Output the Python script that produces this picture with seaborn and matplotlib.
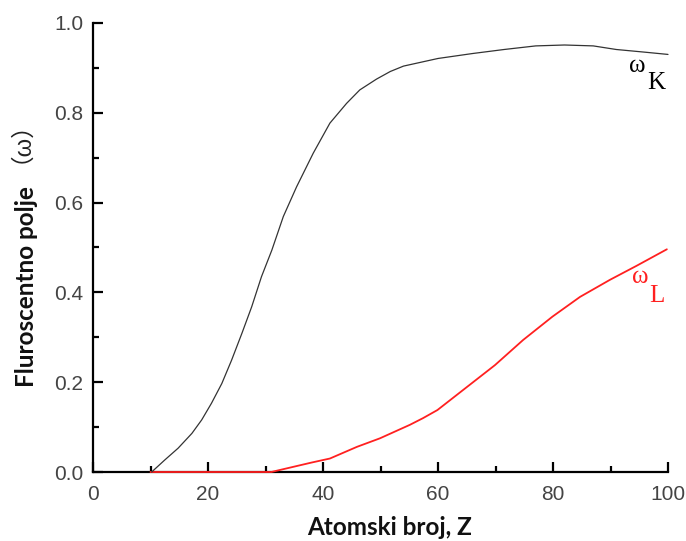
import matplotlib
matplotlib.use("Agg")
import matplotlib.pyplot as plt
from matplotlib.ticker import MultipleLocator
import seaborn as sns
import pandas as pd

# ---- data ----
z_k = [10.2, 12.5, 14.8, 17.2, 18.9, 20.6, 22.4, 24.1, 25.9, 27.6, 29.3, 31.1,
       33.1, 35.4, 38.3, 41.2, 44.1, 46.4, 49.3, 51.7, 54, 60, 66, 71.5, 77,
       82, 87, 91, 96, 100]
w_k = [0.0, 0.027, 0.053, 0.086, 0.116, 0.153, 0.197, 0.249, 0.309, 0.368,
       0.435, 0.494, 0.569, 0.635, 0.71, 0.777, 0.821, 0.851, 0.875, 0.892,
       0.904, 0.921, 0.932, 0.941, 0.949, 0.951, 0.949, 0.941, 0.935, 0.930]
z_l = [10, 20, 30, 31, 35, 38, 41.2, 45.9, 49.9, 55.1, 57.4, 59.9, 64.4, 69.9,
       74.8, 79.9, 84.7, 89.9, 94.5, 99.8]
w_l = [0.0, 0.0, 0.0, 0.0, 0.012, 0.021, 0.030, 0.056, 0.075, 0.105, 0.12,
       0.138, 0.183, 0.238, 0.294, 0.346, 0.39, 0.428, 0.459, 0.496]

x_label = "Atomski broj, Z"
y_label = "Fluroscentno polje"
y_label_sym = "（ω）"
label_k = ("ω", "K")
label_l = ("ω", "L")

sns.set_style("ticks")
plt.rcParams['font.family'] = ['Liberation Sans', 'DejaVu Sans']

df_k = pd.DataFrame({"Z": z_k, "w": w_k})
df_l = pd.DataFrame({"Z": z_l, "w": w_l})

fig = plt.figure(figsize=(6.86, 5.41), dpi=100)
ax = fig.add_axes([93/686, 69/541, 575/686, 449/541])

sns.lineplot(data=df_l, x="Z", y="w", ax=ax, color="#ff2020", lw=1.3,
             sort=False, estimator=None, clip_on=False, zorder=3)
sns.lineplot(data=df_k, x="Z", y="w", ax=ax, color="#333333", lw=0.9,
             sort=False, estimator=None, clip_on=False, zorder=4)

ax.set_xlim(0, 100)
ax.set_ylim(0, 1.0)
ax.xaxis.set_major_locator(MultipleLocator(20))
ax.xaxis.set_minor_locator(MultipleLocator(10))
ax.yaxis.set_major_locator(MultipleLocator(0.2))
ax.yaxis.set_minor_locator(MultipleLocator(0.1))
ax.yaxis.set_major_formatter(plt.FuncFormatter(lambda v, p: f"{v:.1f}"))

for s in ["top", "right"]:
    ax.spines[s].set_visible(False)
for s in ["left", "bottom"]:
    ax.spines[s].set_linewidth(1.6)
    ax.spines[s].set_color("black")

ax.tick_params(which="major", direction="in", length=7, width=1.6, color="black",
               labelsize=15, labelcolor="#444444")
ax.tick_params(which="minor", direction="in", length=4.5, width=1.6, color="black")
ax.tick_params(axis="y", pad=7)
ax.tick_params(axis="x", pad=9)

lab_font = dict(family=['Lato', 'DejaVu Sans'], fontweight="bold",
                fontsize=17.5, color="#111111")
ax.set_xlabel(x_label, **lab_font)
ax.xaxis.set_label_coords(0.515, -0.098)
ax.set_ylabel(y_label, **lab_font)
ax.yaxis.set_label_coords(-0.096, 0.414)
ax.text(-0.146, 0.762, y_label_sym, transform=ax.transAxes, rotation=90,
        ha="center", va="center", fontsize=17, color="#222222",
        family=['Liberation Sans', 'Noto Sans CJK SC', 'DejaVu Sans'])

serif = dict(family=['Liberation Serif', 'DejaVu Serif'], fontsize=18)
ax.text(93.2, 0.891, label_k[0], color="black", ha="left", va="baseline", **serif)
ax.text(96.3, 0.853, label_k[1], color="black", ha="left", va="baseline", **serif)
ax.text(93.7, 0.421, label_l[0], color="#ff2020", ha="left", va="baseline", **serif)
ax.text(96.7, 0.379, label_l[1], color="#ff2020", ha="left", va="baseline", **serif)

fig.savefig("out.png", dpi=100)
